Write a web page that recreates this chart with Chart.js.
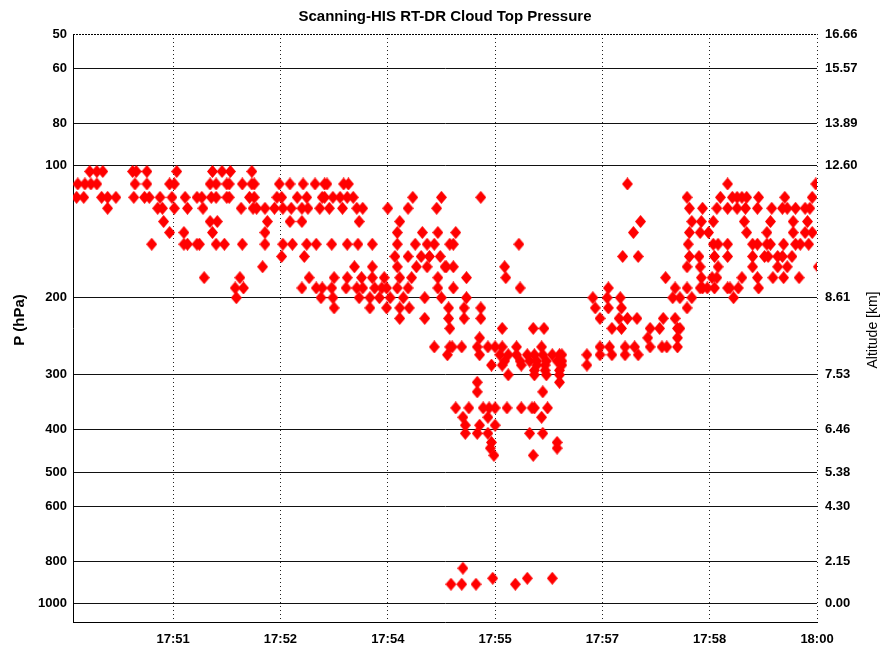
<!DOCTYPE html>
<html>
<head>
<meta charset="utf-8">
<script src="https://cdn.jsdelivr.net/npm/chart.js@4.4.1/dist/chart.umd.min.js"></script>
<style>
  body { margin: 0; background: #fff; }
  canvas { display: block; }
</style>
</head>
<body>
<canvas id="chart" width="883" height="652"></canvas>
<script>
// time is seconds after 17:50:00, pressure in hPa
const startHour = 17, startMin = 50;
const timeTicks = [60, 150, 240, 330, 420, 510, 600];
const pressureTicks = [50, 60, 80, 100, 200, 300, 400, 500, 600, 800, 1000];
const altitudeTicks = ['16.66', '15.57', '13.89', '12.60', '8.61', '7.53', '6.46', '5.38', '4.30', '2.15', '0.00'];

// cloud top pressure levels and the scan times where each level was retrieved
const levels = [103, 110, 118, 125, 134, 142, 151, 161, 170, 180, 190, 200, 211, 223, 235, 247, 259,
                270, 279, 285, 293, 300, 312, 328, 357, 375, 391, 408, 428, 441, 458, 829, 874, 902];
const timesAtLevel = [
  [-10, -4, 1, 26, 29, 38, 63, 93, 101, 108, 126],
  [-20, -14, -9, -4, 28, 38, 57, 61, 91, 96, 105, 107, 118, 126, 128, 149, 158, 169, 179, 187, 189, 203, 207, 441, 525, 599],
  [-21, -15, 0, 5, 12, 27, 36, 40, 49, 59, 70, 80, 84, 92, 96, 105, 107, 124, 128, 147, 151, 164, 172, 185, 187, 194, 200, 206, 211, 261, 285, 318, 491, 519, 529, 533, 537, 541, 551, 573, 596],
  [5, 47, 51, 61, 72, 85, 117, 127, 130, 137, 145, 152, 159, 168, 173, 183, 191, 202, 214, 219, 240, 257, 281, 493, 504, 516, 525, 533, 540, 550, 562, 571, 575, 582, 590, 594],
  [52, 91, 97, 139, 158, 168, 216, 250, 452, 495, 503, 513, 539, 561, 580, 592],
  [57, 69, 93, 137, 248, 269, 282, 297, 446, 493, 502, 509, 541, 558, 580, 590, 596],
  [42, 69, 72, 80, 82, 96, 103, 118, 137, 152, 160, 172, 180, 193, 206, 215, 227, 248, 263, 273, 279, 292, 295, 350, 492, 513, 517, 525, 546, 550, 558, 561, 572, 582, 586, 593],
  [151, 170, 246, 257, 268, 275, 284, 437, 450, 493, 501, 514, 525, 546, 556, 559, 567, 571, 579],
  [135, 212, 227, 248, 264, 273, 288, 289, 295, 338, 491, 502, 517, 546, 567, 575, 601],
  [86, 116, 174, 195, 206, 218, 227, 237, 250, 260, 282, 306, 339, 473, 503, 512, 516, 537, 550, 563, 572, 585],
  [112, 119, 168, 180, 185, 193, 205, 214, 219, 229, 235, 239, 248, 257, 282, 295, 351, 425, 481, 491, 502, 504, 508, 514, 525, 527, 534, 551],
  [113, 184, 194, 216, 225, 233, 242, 253, 271, 285, 306, 412, 424, 435, 479, 485, 495, 530],
  [195, 225, 239, 250, 258, 291, 304, 318, 414, 425, 436, 491],
  [250, 271, 291, 304, 318, 418, 434, 441, 449, 471, 481],
  [292, 336, 362, 371, 428, 436, 460, 468, 483, 485],
  [317, 458, 483],
  [279, 292, 294, 302, 315, 324, 330, 336, 348, 369, 418, 426, 439, 447, 460, 470, 474, 483],
  [290, 317, 334, 341, 348, 357, 363, 370, 378, 384, 386, 407, 418, 428, 439, 450],
  [338, 351, 359, 365, 373, 382, 386],
  [327, 336, 352, 365, 372, 386, 407],
  [363, 372, 384],
  [341, 363, 373, 384],
  [315, 384],
  [315, 370],
  [297, 308, 320, 325, 330, 340, 352, 361, 363, 374],
  [303, 324, 369],
  [305, 317, 330],
  [305, 315, 324, 359, 370],
  [327, 382],
  [326, 382],
  [329, 362],
  [303],
  [328, 357, 378],
  [293, 302, 314, 347]
];

const points = [];
levels.forEach((p, i) => {
  timesAtLevel[i].forEach(t => points.push({ x: t, y: p }));
});

function timeLabel(s) {
  const total = startHour * 3600 + startMin * 60 + s;
  const h = Math.floor(total / 3600);
  const m = Math.floor((total % 3600) / 60);
  return h + ':' + String(m).padStart(2, '0');
}

// matlab style diamond, a bit taller than wide
function diamond(w, h, color) {
  const c = document.createElement('canvas');
  c.width = w; c.height = h;
  const g = c.getContext('2d');
  g.fillStyle = color;
  g.beginPath();
  g.moveTo(w / 2, 0);
  g.lineTo(w, h / 2);
  g.lineTo(w / 2, h);
  g.lineTo(0, h / 2);
  g.closePath();
  g.fill();
  return c;
}

const FONT = '"Liberation Sans", Arial, Helvetica, sans-serif';

const textPlugin = {
  id: 'textPlugin',
  beforeDraw(chart) {
    const ctx = chart.ctx;
    ctx.save();
    ctx.fillStyle = '#fff';
    ctx.fillRect(0, 0, chart.width, chart.height);
    ctx.restore();
  },
  afterDraw(chart) {
    const { ctx, chartArea } = chart;
    ctx.save();
    // dotted top edge
    ctx.strokeStyle = '#000';
    ctx.lineWidth = 1;
    ctx.setLineDash([2, 1]);
    ctx.beginPath();
    ctx.moveTo(chartArea.left, chartArea.top + 0.5);
    ctx.lineTo(chartArea.right, chartArea.top + 0.5);
    ctx.stroke();
    ctx.setLineDash([]);

    ctx.fillStyle = '#000';
    ctx.textAlign = 'center';
    ctx.textBaseline = 'middle';
    ctx.font = 'bold 15px ' + FONT;
    ctx.fillText('Scanning-HIS RT-DR Cloud Top Pressure', (chartArea.left + chartArea.right) / 2, 17);

    ctx.save();
    ctx.translate(20, 320);
    ctx.rotate(-Math.PI / 2);
    ctx.fillText('P (hPa)', 0, 0);
    ctx.restore();

    ctx.save();
    ctx.font = '14px ' + FONT;
    ctx.translate(873, 330);
    ctx.rotate(-Math.PI / 2);
    ctx.fillText('Altitude [km]', 0, 0);
    ctx.restore();
    ctx.restore();
  }
};

const tickFont = { family: FONT, size: 13, weight: 'bold' };
const marker = diamond(11, 13, '#ff0000');

const config = {
  type: 'scatter',
  data: {
    datasets: [{
      data: points,
      pointStyle: marker,
      pointRadius: 6,
      backgroundColor: '#ff0000',
      borderColor: '#ff0000'
    }]
  },
  options: {
    responsive: false,
    animation: false,
    events: [],
    layout: { padding: { top: 34, left: 0, right: 0, bottom: 0 } },
    plugins: {
      legend: { display: false },
      tooltip: { enabled: false },
      title: { display: false }
    },
    scales: {
      x: {
        type: 'linear',
        min: -24,
        max: 600,
        afterBuildTicks: scale => { scale.ticks = timeTicks.map(v => ({ value: v })); },
        afterFit: scale => { scale.height = 30; },
        ticks: {
          autoSkip: false,
          maxRotation: 0,
          padding: 10,
          color: '#000',
          font: tickFont,
          callback: v => timeLabel(v)
        },
        grid: { color: '#222', lineWidth: 1, drawTicks: false },
        border: { display: true, color: '#000', width: 1, dash: [1, 3] }
      },
      y: {
        type: 'logarithmic',
        position: 'left',
        reverse: true,
        min: 50,
        max: 1100,
        afterBuildTicks: scale => { scale.ticks = pressureTicks.map(v => ({ value: v })); },
        afterFit: scale => { scale.width = 73; },
        ticks: {
          autoSkip: false,
          padding: 6,
          color: '#000',
          font: tickFont,
          callback: v => String(v)
        },
        grid: {
          color: c => (c.tick && c.tick.value === 50) ? 'rgba(0,0,0,0)' : '#111',
          lineWidth: 1,
          drawTicks: false
        },
        border: { display: true, color: '#000', width: 1 }
      },
      y2: {
        type: 'logarithmic',
        position: 'right',
        reverse: true,
        min: 50,
        max: 1100,
        afterBuildTicks: scale => { scale.ticks = pressureTicks.map(v => ({ value: v })); },
        afterFit: scale => { scale.width = 66; },
        ticks: {
          autoSkip: false,
          padding: 8,
          color: '#000',
          font: tickFont,
          callback: v => altitudeTicks[pressureTicks.indexOf(v)]
        },
        grid: { drawOnChartArea: false, drawTicks: false },
        border: { display: false }
      }
    }
  },
  plugins: [textPlugin]
};

const chart = new Chart(document.getElementById('chart'), config);
</script>
</body>
</html>
